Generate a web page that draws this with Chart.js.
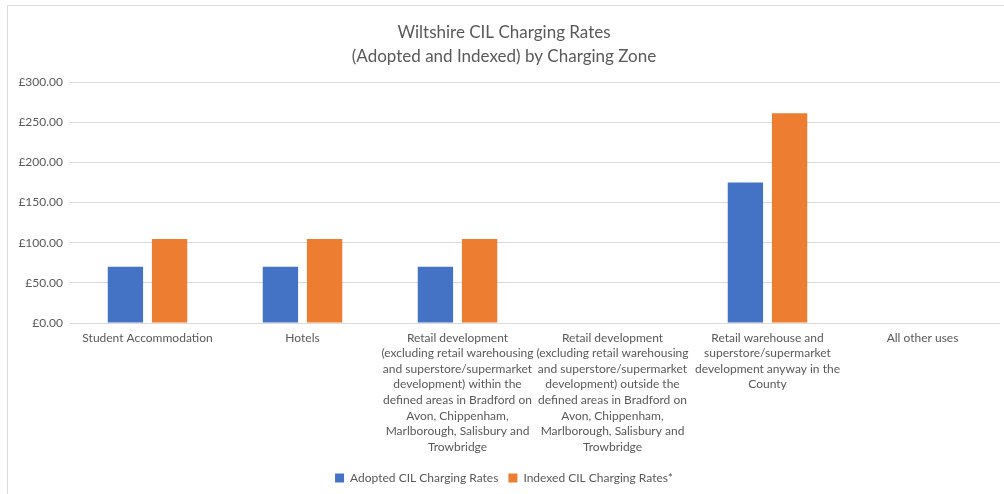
<!DOCTYPE html>
<html>
<head>
<meta charset="utf-8">
<script src="https://cdn.jsdelivr.net/npm/chart.js@4"></script>
<style>
  body { margin: 0; background: #fff; }
  #wrap { position: relative; width: 1004px; height: 494px; }
  #frame { position: absolute; left: 7px; top: 5px; right: -2px; bottom: -2px;
           border-left: 1px solid #d9d9d9; border-top: 1px solid #d9d9d9; }
  canvas { position: absolute; left: 0; top: 0; }
</style>
</head>
<body>
<div id="wrap">
  <div id="frame"></div>
  <canvas id="cilChart" width="1004" height="494"></canvas>
</div>
<script>
const categories = [
  ['Student Accommodation'],
  ['Hotels'],
  ['Retail development', '(excluding retail warehousing', 'and superstore/supermarket', 'development) within the', 'defined areas in Bradford on', 'Avon, Chippenham,', 'Marlborough, Salisbury and', 'Trowbridge'],
  ['Retail development', '(excluding retail warehousing', 'and superstore/supermarket', 'development) outside the', 'defined areas in Bradford on', 'Avon, Chippenham,', 'Marlborough, Salisbury and', 'Trowbridge'],
  ['Retail warehouse and', 'superstore/supermarket', 'development anyway in the', 'County'],
  ['All other uses']
];
const adoptedRates = [70, 70, 70, 0, 175, 0];
const indexedRates = [104.5, 104.5, 104.5, 0, 261, 0];
const yTicks = [0, 50, 100, 150, 200, 250, 300];

const textColor = '#595959';
const fontFamily = 'Lato, "Open Sans", sans-serif';

const dataCil = {
  labels: categories,
  datasets: [{
    label: 'Adopted CIL Charging Rates',
    data: adoptedRates,
    backgroundColor: '#4472C4'
  }, {
    label: 'Indexed CIL Charging Rates*',
    data: indexedRates,
    backgroundColor: '#ED7D31'
  }]
};

const configCil = {
  type: 'bar',
  data: dataCil,
  options: {
    responsive: false,
    animation: false,
    categoryPercentage: 0.57,
    barPercentage: 0.8,
    layout: { padding: { left: 8, right: 4, top: 0, bottom: 0 } },
    plugins: {
      title: {
        display: true,
        text: ['Wiltshire CIL Charging Rates', '(Adopted and Indexed) by Charging Zone'],
        color: textColor,
        font: { family: fontFamily, size: 17, weight: 'normal', lineHeight: '24px' },
        padding: { top: 21, bottom: 13 }
      },
      legend: {
        position: 'bottom',
        labels: {
          color: textColor,
          font: { family: fontFamily, size: 12 },
          boxWidth: 9,
          boxHeight: 9,
          padding: 10
        }
      },
      tooltip: { enabled: false }
    },
    scales: {
      x: {
        grid: { display: false, drawTicks: false },
        border: { display: false },
        ticks: {
          color: textColor,
          font: { family: fontFamily, size: 12, lineHeight: 1.3 },
          padding: 7,
          maxRotation: 0,
          autoSkip: false
        },
        afterFit: scale => { scale.height = 139; }
      },
      y: {
        min: 0,
        max: 300,
        afterBuildTicks: scale => { scale.ticks = yTicks.map(v => ({ value: v })); },
        grid: { color: '#d9d9d9', drawTicks: false },
        border: { display: false },
        ticks: {
          color: textColor,
          font: { family: fontFamily, size: 12 },
          padding: 7,
          callback: v => '£' + Number(v).toFixed(2)
        },
        afterFit: scale => { scale.width = 62; }
      }
    }
  }
};

const cilChart = new Chart(document.getElementById('cilChart'), configCil);
</script>
</body>
</html>
